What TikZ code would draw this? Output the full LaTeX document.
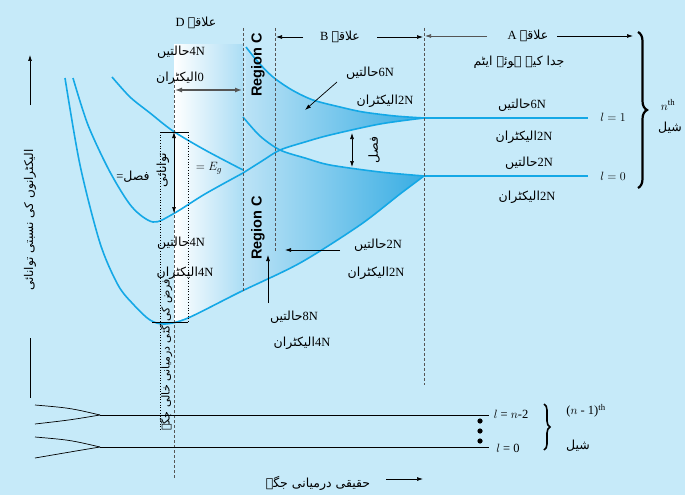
\documentclass[tikz,border=0pt]{standalone}
\usepackage{fontspec}
\setmainfont{Liberation Serif}
\newfontfamily\urfont[Script=Arabic]{DejaVu Sans}
\newfontfamily\rgfont{Liberation Sans}
\TeXXeTstate=1
\usetikzlibrary{arrows.meta,decorations.pathreplacing}
\newcommand{\urd}[1]{{\urfont\beginR #1\endR}}
\definecolor{bgblue}{HTML}{C6EAF9}
\definecolor{curvec}{HTML}{14A8E6}
\definecolor{bandL}{HTML}{BCE3F6}
\definecolor{bandR}{HTML}{38ADE3}
\definecolor{dgray}{HTML}{555555}
\tikzset{
  Tc/.style={insert path={plot[smooth] coordinates {(246,47) (258,62) (273,77) (292,90) (313,100) (340,107) (363,112) (395,116) (424,118)}}},
  Plc/.style={insert path={plot[smooth] coordinates {(73,78) (88,125) (110,172) (132,207) (153,222) (173,214) (205,194) (243,173)}}},
  Prc/.style={insert path={plot[smooth] coordinates {(243,173) (262,161) (280,150) (305,142) (330,135) (380,124) (424,118)}}},
  Sc/.style={insert path={plot[smooth] coordinates {(243,117) (260,136) (280,150) (305,158) (330,165) (380,172) (424,176)}}},
  Qc/.style={insert path={plot[smooth] coordinates {(65,78) (80,165) (100,243) (118,285) (133,304) (150,320) (165,324) (188,318) (240,292) (300,263) (360,225) (400,194) (424,176)}}},
  Uc/.style={insert path={plot[smooth] coordinates {(112,77) (130,97) (150,113) (173,131) (205,150) (243,170)}}},
  band/.style={draw=curvec, line width=1.6pt},
  level/.style={draw=curvec, line width=2.6pt},
  dashln/.style={draw=dgray, dash pattern=on 3pt off 2pt, line width=0.7pt},
  dotl/.style={draw=black, dotted, line width=0.7pt},
  arr/.style={draw=black, line width=0.7pt, -{Latex[length=6pt,width=4pt]}},
  darr/.style={draw=black, line width=0.7pt, {Latex[length=6pt,width=4pt]}-{Latex[length=6pt,width=4pt]}},
  garr/.style={draw=dgray, line width=1.3pt, {Latex[length=7pt,width=5pt]}-{Latex[length=7pt,width=5pt]}},
  lab/.style={font=\fontsize{12.5}{14}\selectfont, inner sep=0pt},
  rc/.style={font=\rgfont\bfseries\fontsize{14.5}{16}\selectfont, inner sep=0pt, rotate=90},
}
\begin{document}
\begin{tikzpicture}[x=1pt,y=-1pt]
\useasboundingbox (0,0) rectangle (685,495);
\fill[bgblue] (0,0) rectangle (685,495);

% region D white gradient
\begin{scope}
  \clip[Qc] -- (424,0) -- (65,0) -- cycle;
  \shade[left color=white, right color=bandL!90!curvec] (174,45) rectangle (243,340);
\end{scope}
% upper band shading
\begin{scope}
  \clip[Tc] -- (424,400) -- (244,400) -- cycle;
  \clip[Prc] -- (424,0) -- (243,0) -- cycle;
  \shade[left color=bandL, right color=bandR] (243,0) rectangle (424,400);
\end{scope}
% lower band shading
\begin{scope}
  \clip[Prc] -- (424,400) -- (243,400) -- cycle;
  \clip[Sc] -- (424,400) -- (243,400) -- cycle;
  \clip[Qc] -- (424,0) -- (65,0) -- cycle;
  \shade[left color=bandL, right color=bandR] (243,0) rectangle (424,400);
\end{scope}

% curves
\path[band][Tc];
\path[band][Plc];
\path[band][Prc];
\path[band][Sc];
\path[band][Qc];
\path[band][Uc];
\coordinate (l1a) at (424,118); \coordinate (l1b) at (588,118);
\coordinate (l0a) at (424,176); \coordinate (l0b) at (588,176);
\path[level] (l1a) -- (l1b);
\path[level] (l0a) -- (l0b);

% dashed / dotted guides
\coordinate (v1a) at (174,80);  \coordinate (v1b) at (174,478);
\coordinate (v2a) at (243,28);  \coordinate (v2b) at (243,292);
\coordinate (v3a) at (275,28);  \coordinate (v3b) at (275,252);
\coordinate (v4a) at (424,28);  \coordinate (v4b) at (424,385);
\path[dashln] (v1a) -- (v1b);
\path[dashln] (v2a) -- (v2b);
\path[dashln] (v3a) -- (v3b);
\path[dashln] (v4a) -- (v4b);
\coordinate (d1a) at (160,132); \coordinate (d1b) at (160,430);
\coordinate (d2a) at (188,132); \coordinate (d2b) at (188,322);
\path[dotl] (d1a) -- (d1b);
\path[dotl] (d2a) -- (d2b);
\coordinate (h1a) at (160,132); \coordinate (h1b) at (188,132);
\coordinate (h2a) at (152,322); \coordinate (h2b) at (188,322);
\draw[line width=0.8pt] (h1a) -- (h1b);
\draw[line width=0.8pt] (h2a) -- (h2b);

% gap arrow
\coordinate (g1) at (174,132); \coordinate (g2) at (174,213);
\draw[darr] (g1) -- (g2);

% region D
\node[lab] (dlab) at (196,23) {D \urd{علاقہ}};
\node[lab] (d4n) at (181,52) {\urd{حالتیں}4N};
\node[lab] (d0e) at (180,78) {\urd{الیکٹران}0};
\coordinate (da1) at (175,90); \coordinate (da2) at (242,90);
\draw[garr] (da1) -- (da2);

% region C
\node[rc] (rc1) at (258,65) {Region C};
\node[rc] (rc2) at (258,228) {Region C};

% region B
\node[lab] (blab) at (340,37) {B \urd{علاقہ}};
\coordinate (bls) at (303,37); \coordinate (ble) at (276,37);
\coordinate (brs) at (377,37); \coordinate (bre) at (423,37);
\draw[arr] (bls) -- (ble);
\draw[arr] (brs) -- (bre);

% region A
\node[lab] (alab) at (528,36) {A \urd{علاقہ}};
\node[lab] (asep) at (519,62) {\urd{جدا کیے ہوئے ایٹم}};
\coordinate (als) at (487,36); \coordinate (ale) at (425,36);
\coordinate (ars) at (557,36); \coordinate (are) at (633,36);
\draw[arr, draw=dgray] (als) -- (ale);
\draw[arr] (ars) -- (are);

% right labels
\node[lab] (a6n) at (522,105) {\urd{حالتیں}6N};
\node[lab] (a2e) at (524,137) {\urd{الیکٹران}2N};
\node[lab] (a2n) at (529,163) {\urd{حالتیں}2N};
\node[lab] (a2e2) at (527,197) {\urd{الیکٹران}2N};
\node[lab] (l1) at (613,117) {$l = 1$};
\node[lab] (l0) at (613,176) {$l = 0$};
\coordinate (bra) at (638,32); \coordinate (brb) at (638,188);
\draw[line width=2.2pt, decorate, decoration={brace, amplitude=9pt}] (bra) -- (brb);
\node[lab] (nth) at (668,105) {$n^{\mathrm{th}}$};
\node[lab] (shel) at (670,128) {\urd{شیل}};

% region B inner labels
\node[lab] (b6n) at (370,73) {\urd{حالتیں}6N};
\node[lab] (b2e) at (385,101) {\urd{الیکٹران}2N};
\coordinate (ba1) at (337,82); \coordinate (ba2) at (305,110);
\draw[arr] (ba1) -- (ba2);
\node[lab, rotate=90] (fasl) at (374,150) {\urd{فصل}};
\coordinate (fa1) at (352,133); \coordinate (fa2) at (352,167);
\draw[darr] (fa1) -- (fa2);

\node[lab] (c2n) at (378,245) {\urd{حالتیں}2N};
\node[lab] (c2e) at (376,273) {\urd{الیکٹران}2N};
\coordinate (ca1) at (340,250); \coordinate (ca2) at (285,250);
\draw[arr] (ca1) -- (ca2);
\coordinate (cu1) at (268,303); \coordinate (cu2) at (268,255);
\draw[arr] (cu1) -- (cu2);
\node[lab] (c8n) at (294,317) {\urd{حالتیں}8N};
\node[lab] (c4e) at (302,343) {\urd{الیکٹران}4N};

% gap labels
\node[lab] (eq1) at (133,177) {=\urd{فصل}};
\node[lab, rotate=90] (tw) at (163,170) {\urd{توانائی}};
\node[lab] (eg) at (209,168) {$= E_g$};
\node[lab] (v4n) at (181,243) {\urd{حالتیں}4N};
\node[lab] (v4e) at (185,273) {\urd{الیکٹران}4N};
\node[lab, rotate=90, font=\fontsize{11}{13}\selectfont] (spacing) at (166,355) {\urd{فرض کی گئی درمیانی خالی جگہ}};

% left axis
\coordinate (ya1) at (30,105); \coordinate (ya2) at (30,55);
\draw[arr] (ya1) -- (ya2);
\node[lab, rotate=90, font=\fontsize{12}{14}\selectfont] (ylab) at (30,220) {\urd{الیکٹرانوں کی نسبتی توانائی}};
\coordinate (yb1) at (30,338); \coordinate (yb2) at (30,398);
\draw[line width=0.7pt] (yb1) -- (yb2);

% lower shell
\coordinate (m1) at (100,415); \coordinate (m1e) at (489,415);
\coordinate (m0) at (100,447); \coordinate (m0e) at (489,447);
\coordinate (t1) at (35,405); \coordinate (t2) at (35,424);
\coordinate (t3) at (35,437); \coordinate (t4) at (35,458);
\draw[line width=0.7pt] (t1) .. controls (70,408) .. (m1);
\draw[line width=0.7pt] (t2) .. controls (70,420) .. (m1);
\draw[line width=0.7pt] (t3) .. controls (70,440) .. (m0);
\draw[line width=0.7pt] (t4) .. controls (70,452) .. (m0);
\draw[line width=0.8pt] (m1) -- (m1e);
\draw[line width=0.8pt] (m0) -- (m0e);
\fill (480,421) circle (2.6pt) (480,431) circle (2.6pt) (480,441) circle (2.6pt);
\node[lab] (ln2) at (511,414) {$l$ = $n$-2};
\node[lab] (ln0) at (508,448) {$l$ = 0};
\coordinate (bb1) at (544,404); \coordinate (bb2) at (544,450);
\draw[line width=1.6pt, decorate, decoration={brace, amplitude=6pt}] (bb1) -- (bb2);
\node[lab] (n1th) at (586,411) {($n$ - 1)\textsuperscript{th}};
\node[lab] (shel2) at (578,446) {\urd{شیل}};

% x axis label
\node[lab] (xlab) at (318,483) {\urd{حقیقی درمیانی جگہ}};
\coordinate (xa1) at (386,479); \coordinate (xa2) at (423,479);
\draw[arr] (xa1) -- (xa2);
\end{tikzpicture}
\end{document}
